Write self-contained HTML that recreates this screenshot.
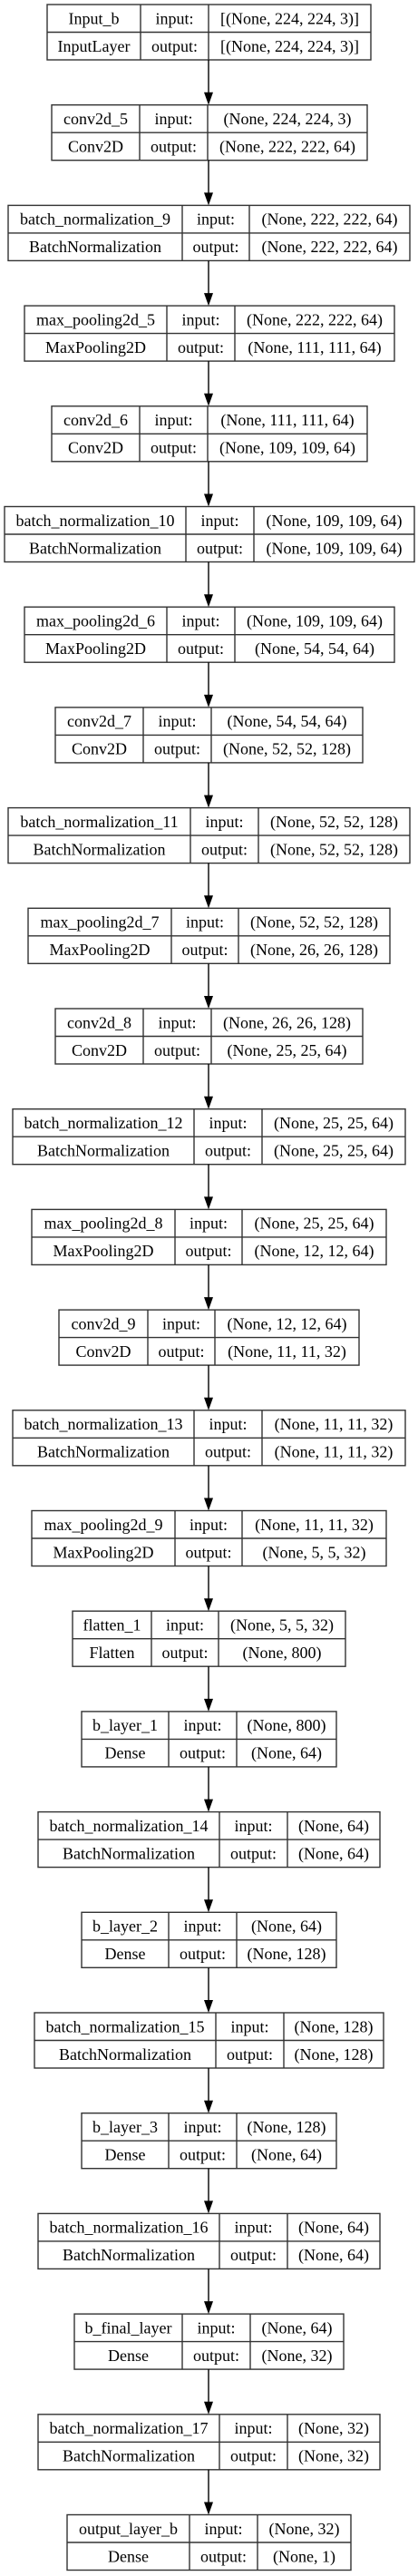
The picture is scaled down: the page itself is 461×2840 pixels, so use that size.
<!DOCTYPE html>
<html><head><meta charset="utf-8"><title>Model plot</title>
<style>
html,body{margin:0;padding:0;background:#fff;}
svg{display:block;}
text{font-family:"Liberation Serif","DejaVu Serif",serif;font-size:18px;fill:#000;}
</style></head>
<body>
<svg id="chart" width="461" height="2840" viewBox="0 0 461 2840" xmlns="http://www.w3.org/2000/svg"></svg>
<script>
const layerNames = ["Input_b","conv2d_5","batch_normalization_9","max_pooling2d_5","conv2d_6","batch_normalization_10","max_pooling2d_6","conv2d_7","batch_normalization_11","max_pooling2d_7","conv2d_8","batch_normalization_12","max_pooling2d_8","conv2d_9","batch_normalization_13","max_pooling2d_9","flatten_1","b_layer_1","batch_normalization_14","b_layer_2","batch_normalization_15","b_layer_3","batch_normalization_16","b_final_layer","batch_normalization_17","output_layer_b"];
const layerTypes = ["InputLayer","Conv2D","BatchNormalization","MaxPooling2D","Conv2D","BatchNormalization","MaxPooling2D","Conv2D","BatchNormalization","MaxPooling2D","Conv2D","BatchNormalization","MaxPooling2D","Conv2D","BatchNormalization","MaxPooling2D","Flatten","Dense","BatchNormalization","Dense","BatchNormalization","Dense","BatchNormalization","Dense","BatchNormalization","Dense"];
const inputShapes = ["[(None, 224, 224, 3)]","(None, 224, 224, 3)","(None, 222, 222, 64)","(None, 222, 222, 64)","(None, 111, 111, 64)","(None, 109, 109, 64)","(None, 109, 109, 64)","(None, 54, 54, 64)","(None, 52, 52, 128)","(None, 52, 52, 128)","(None, 26, 26, 128)","(None, 25, 25, 64)","(None, 25, 25, 64)","(None, 12, 12, 64)","(None, 11, 11, 32)","(None, 11, 11, 32)","(None, 5, 5, 32)","(None, 800)","(None, 64)","(None, 64)","(None, 128)","(None, 128)","(None, 64)","(None, 64)","(None, 32)","(None, 32)"];
const outputShapes = ["[(None, 224, 224, 3)]","(None, 222, 222, 64)","(None, 222, 222, 64)","(None, 111, 111, 64)","(None, 109, 109, 64)","(None, 109, 109, 64)","(None, 54, 54, 64)","(None, 52, 52, 128)","(None, 52, 52, 128)","(None, 26, 26, 128)","(None, 25, 25, 64)","(None, 25, 25, 64)","(None, 12, 12, 64)","(None, 11, 11, 32)","(None, 11, 11, 32)","(None, 5, 5, 32)","(None, 800)","(None, 64)","(None, 64)","(None, 128)","(None, 128)","(None, 64)","(None, 64)","(None, 32)","(None, 32)","(None, 1)"];
// column boundaries measured from reference: [left, divider1, divider2, right]
const boxCols = [[52,155,230,409],[57,154,229,405],[9,201,275,452],[27,184,259,435],[57,154,229,405],[5,205,280,457],[27,184,259,435],[61,158,233,400],[9,210,285,452],[31,189,263,430],[61,158,233,400],[14,214,289,447],[35,193,267,426],[65,163,237,396],[14,214,289,447],[35,193,267,426],[80,167,241,381],[90,186,261,371],[42,242,317,419],[90,186,261,371],[38,238,313,423],[90,186,261,371],[42,242,317,419],[82,201,276,379],[42,242,317,419],[74,209,284,387]];

const NS = "http://www.w3.org/2000/svg";
const svg = document.getElementById("chart");
const TOP0 = 5, PITCH = 110.7, BOXH = 61, ARROWX = 230;
function yTop(i){ return TOP0 + i * PITCH; }
function mk(tag, attrs){ const e = document.createElementNS(NS, tag); for (const k in attrs) e.setAttribute(k, attrs[k]); return e; }
const stroke = "#333";

for (let i = 0; i < layerNames.length; i++) {
  const [x1, d1, d2, x2] = boxCols[i];
  const y = yTop(i), mid = y + BOXH / 2;
  const g = mk("g", {});
  
  
  const r = mk("rect", {x: x1, y: y, width: x2 - x1, height: BOXH, fill: "#fff", stroke: stroke, "stroke-width": 1.4});
  
  
  g.appendChild(r);
  const lines = [[x1, mid, x2, mid], [d1, y, d1, y + BOXH], [d2, y, d2, y + BOXH]];
  for (const l of lines) {
    const ln = mk("line", {x1: l[0], y1: l[1], x2: l[2], y2: l[3], stroke: stroke, "stroke-width": 1.4});
    
    
    g.appendChild(ln);
  }
  const cells = [
    [(x1 + d1) / 2, y + BOXH * 0.25, layerNames[i], 'layer-name'],
    [(x1 + d1) / 2, y + BOXH * 0.75, layerTypes[i], 'layer-type'],
    [(d1 + d2) / 2, y + BOXH * 0.25, "input:", 'input-label'],
    [(d1 + d2) / 2, y + BOXH * 0.75, "output:", 'output-label'],
    [(d2 + x2) / 2, y + BOXH * 0.25, inputShapes[i], 'input-shape'],
    [(d2 + x2) / 2, y + BOXH * 0.75, outputShapes[i], 'output-shape']
  ];
  for (const c of cells) {
    const t = mk("text", {x: c[0], y: c[1] + 6, "text-anchor": "middle"});
    t.textContent = c[2];
    
    
    g.appendChild(t);
  }
  svg.appendChild(g);
  if (i > 0) {
    const yb = yTop(i - 1) + BOXH, yt = y;
    const a = mk("line", {x1: ARROWX, y1: yb, x2: ARROWX, y2: yt - 13, stroke: "#000", "stroke-width": 1.4});
    
    
    svg.appendChild(a);
    const h = mk("polygon", {points: (ARROWX - 5) + "," + (yt - 14) + " " + (ARROWX + 5) + "," + (yt - 14) + " " + ARROWX + "," + yt, fill: "#000"});
    
    
    svg.appendChild(h);
  }
}
</script>
</body></html>
